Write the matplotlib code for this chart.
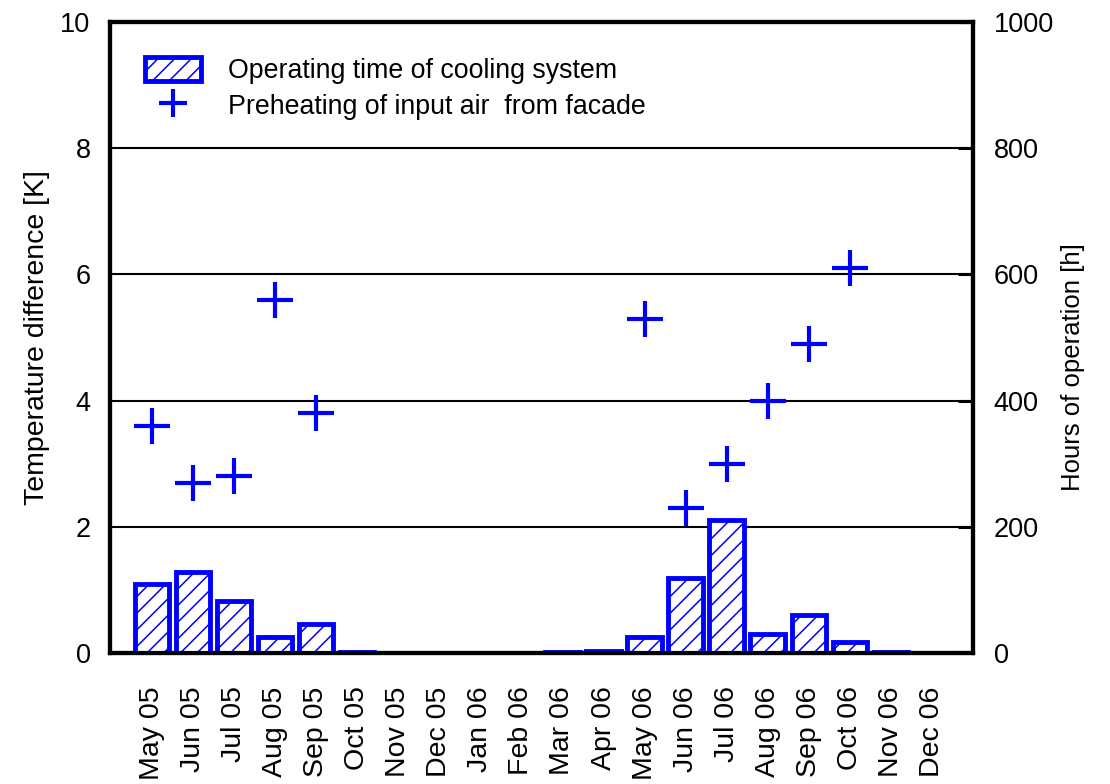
import matplotlib
matplotlib.use("Agg")
import matplotlib.pyplot as plt
from matplotlib.patches import Patch
from matplotlib.lines import Line2D

plt.rcParams["font.family"] = ["Liberation Sans", "DejaVu Sans"]
plt.rcParams["hatch.linewidth"] = 1.1

months = ["May 05", "Jun 05", "Jul 05", "Aug 05", "Sep 05", "Oct 05", "Nov 05",
          "Dec 05", "Jan 06", "Feb 06", "Mar 06", "Apr 06", "May 06", "Jun 06",
          "Jul 06", "Aug 06", "Sep 06", "Oct 06", "Nov 06", "Dec 06"]

# hours of operation of the cooling system (right axis)
hours = [110, 128, 82, 25, 46, 2, 0, 0, 0, 0, 1, 4, 26, 119, 211, 30, 60, 17, 2, 0]

# preheating of input air from facade, temperature difference in K (left axis)
preheat_idx = [0, 1, 2, 3, 4, 12, 13, 14, 15, 16, 17]
preheat_k = [3.6, 2.7, 2.8, 5.6, 3.8, 5.3, 2.3, 3.0, 4.0, 4.9, 6.1]

blue = "#0000ff"

fig = plt.figure(figsize=(11.1, 7.84), dpi=100)
ax = fig.add_axes([0.0991, 0.167, 0.7775, 0.805])
ax2 = ax.twinx()

x = list(range(len(months)))
bx = [i for i, h in zip(x, hours) if h > 0]
bh = [h for h in hours if h > 0]
ax2.bar(bx, bh, width=0.84, facecolor="white", edgecolor=blue,
        linewidth=3.5, hatch="//", zorder=2)

ax.plot([x[i] for i in preheat_idx], preheat_k, linestyle="none", marker="+",
        markersize=26, markeredgewidth=3, color=blue, zorder=3)

ax.set_xlim(-1.02, 20.0)
ax.set_ylim(0, 10)
ax2.set_ylim(0, 1000)
ax.set_yticks([0, 2, 4, 6, 8, 10])
ax2.set_yticks([0, 200, 400, 600, 800, 1000])
ax.set_xticks(x)
ax.set_xticklabels(months, rotation=90, fontsize=20.5)

ax.grid(axis="y", color="black", linewidth=1.5)
ax.set_axisbelow(True)
ax.tick_params(axis="x", length=0, pad=24)
ax.tick_params(axis="y", length=0, pad=14, labelsize=19.5)
ax2.tick_params(axis="y", direction="in", length=11, width=2.2, pad=15, labelsize=19.5)

for a in (ax, ax2):
    for s in a.spines.values():
        s.set_linewidth(3)
        s.set_color("black")

ax.set_ylabel("Temperature difference [K]", fontsize=20.5)
ax.yaxis.set_label_coords(-0.07, 0.5)
ax2.set_ylabel("Hours of operation [h]", fontsize=18.5)
ax2.yaxis.set_label_coords(1.102, 0.453)

handles = [
    Patch(facecolor="white", edgecolor=blue, linewidth=3.5, hatch="//"),
    Line2D([], [], linestyle="none", marker="+", markersize=20,
           markeredgewidth=3, color=blue),
]
labels = ["Operating time of cooling system", "Preheating of input air  from facade"]
ax2.legend(handles, labels, loc="upper left", bbox_to_anchor=(0.04, 0.944),
           frameon=False, fontsize=19.3, handlelength=2.1, handleheight=1.0,
           handletextpad=1.0, labelspacing=0.3, borderpad=0, borderaxespad=0)

fig.savefig("out.png", dpi=100)
